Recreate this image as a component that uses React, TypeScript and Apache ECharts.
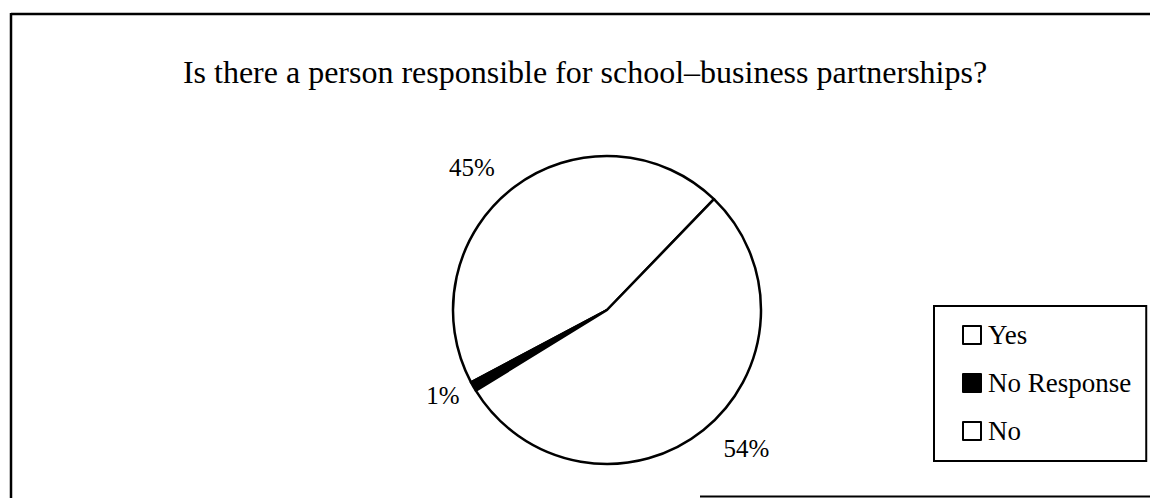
import React, { useEffect, useRef } from "react";
import * as echarts from "echarts";

const titleText = "Is there a person responsible for school–business partnerships?";
const categories = ["Yes", "No Response", "No"];
const values = [45, 1, 54];
const sliceColors = ["#ffffff", "#000000", "#ffffff"];

const FONT = "'Liberation Serif', 'Times New Roman', serif";

export default function App() {
  const ref = useRef<HTMLDivElement>(null);
  useEffect(() => {
    document.body.style.margin = "0";
    const chart = echarts.init(ref.current!, null, { renderer: "svg" });
    chart.setOption({
      animation: false,
      backgroundColor: "#ffffff",
      title: {
        text: titleText,
        left: 585,
        textAlign: "center",
        top: 56,
        padding: 0,
        textStyle: { fontFamily: FONT, fontSize: 32, fontWeight: "normal", color: "#000" },
      },
      legend: {
        orient: "vertical",
        left: 934,
        top: 306,
        padding: [14, 15, 15, 28],
        itemGap: 18,
        itemWidth: 18,
        itemHeight: 18,
        icon: "rect",
        borderColor: "#000",
        borderWidth: 2,
        data: categories,
        textStyle: { fontFamily: FONT, fontSize: 27, lineHeight: 30, color: "#000", padding: [0, 0, 0, 2] },
        itemStyle: { borderColor: "#000", borderWidth: 2 },
        selectedMode: false,
      },
      graphic: [
        { type: "line", shape: { x1: 11, y1: 14, x2: 1150, y2: 14 }, style: { stroke: "#000", lineWidth: 2.5 } },
        { type: "line", shape: { x1: 11, y1: 13, x2: 11, y2: 498 }, style: { stroke: "#000", lineWidth: 2.5 } },
        { type: "line", shape: { x1: 700, y1: 496.5, x2: 1150, y2: 496.5 }, style: { stroke: "#000", lineWidth: 2 } },
      ],
      series: [
        {
          type: "pie",
          center: [607, 310],
          radius: 154,
          startAngle: 46,
          clockwise: false,
          avoidLabelOverlap: false,
          itemStyle: { borderColor: "#000", borderWidth: 2.5 },
          label: {
            show: true,
            position: "outside",
            formatter: "{d}%",
            fontFamily: FONT,
            fontSize: 25,
            color: "#000",
          },
          labelLine: { show: false, length: 24, length2: 0 },
          labelLayout: (p: any) => (p.dataIndex === 1 ? { dx: 12, dy: -3 } : {}),
          emphasis: { disabled: true },
          data: categories.map((name, i) => ({
            name,
            value: values[i],
            itemStyle: { color: sliceColors[i] },
          })),
        },
      ],
    });
    return () => chart.dispose();
  }, []);
  return <div ref={ref} style={{ position: "absolute", left: 0, top: 0, width: 1150, height: 498 }} />;
}
